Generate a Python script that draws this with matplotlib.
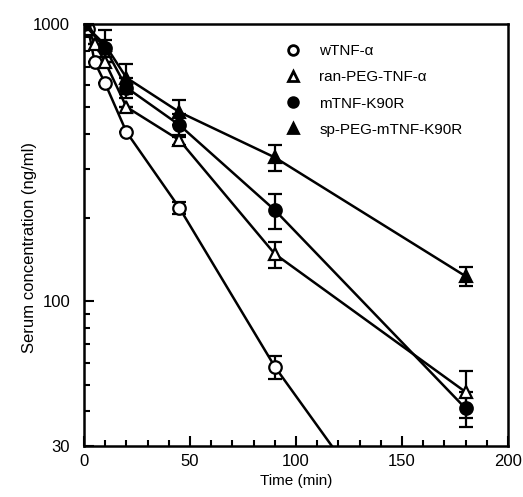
import matplotlib.pyplot as plt
from matplotlib.ticker import FixedLocator, NullFormatter, MultipleLocator

plt.rcParams['font.family'] = ['Liberation Sans', 'DejaVu Sans']

# tiempos de muestreo (min)
tiempo = [0, 2, 5, 10, 20, 45, 90, 180]
tiempo_m = [0, 10, 20, 45, 90, 180]

# concentraciones (ng/ml)
wtnf = [1000, 960, 730, 610, 408, 217, 58, 6.4]
wtnf_err = [0, 0, 0, 0, 0, 10, 5.5, 0]
ran_peg = [1000, 960, 850, 729, 502, 381, 148, 47]
ran_peg_err = [0, 0, 0, 0, 0, 15, 16, 9]
mtnf = [1000, 819, 590, 432, 213, 41]
mtnf_err = [0, 60, 50, 40, 31, 6]
sp_peg = [1000, 840, 640, 481, 330, 123]
sp_peg_err = [0, 110, 80, 50, 36, 10]

nombres = ['wTNF-α', 'ran-PEG-TNF-α', 'mTNF-K90R', 'sp-PEG-mTNF-K90R']

fig = plt.figure(figsize=(5.23, 4.97), dpi=100)
ax = fig.add_axes([0.1606, 0.1026, 0.8107, 0.8491])

estilo = dict(color='black', lw=1.8, ms=9, mew=1.6, capsize=5,
              elinewidth=1.6, capthick=1.6, clip_on=True)

ax.errorbar(tiempo, wtnf, yerr=wtnf_err, marker='o', mfc='white', label=nombres[0], **estilo)
ax.errorbar(tiempo, ran_peg, yerr=ran_peg_err, marker='^', mfc='white', label=nombres[1], **estilo)
ax.errorbar(tiempo_m, mtnf, yerr=mtnf_err, marker='o', mfc='black', label=nombres[2], **estilo)
ax.errorbar(tiempo_m, sp_peg, yerr=sp_peg_err, marker='^', mfc='black', label=nombres[3], **estilo)

ax.set_yscale('log')
ax.set_xlim(0, 200)
ax.set_ylim(30, 1000)

ax.xaxis.set_major_locator(MultipleLocator(50))
ax.xaxis.set_minor_locator(MultipleLocator(10))
ax.yaxis.set_major_locator(FixedLocator([30, 100, 1000]))
ax.yaxis.set_major_formatter(plt.FixedFormatter(['30', '100', '1000']))
ax.yaxis.set_minor_locator(FixedLocator([40, 50, 60, 70, 80, 90, 200, 300, 400, 500, 600, 700, 800, 900]))
ax.yaxis.set_minor_formatter(NullFormatter())

ax.tick_params(which='both', direction='in', top=False, right=False, labelsize=12, width=1.5)
ax.tick_params(which='major', length=7)
ax.tick_params(which='minor', length=4)
ax.tick_params(axis='y', pad=10)
ax.tick_params(axis='x', pad=6)
for s in ax.spines.values():
    s.set_linewidth(1.8)

ax.set_xlabel('Time (min)', fontsize=11, labelpad=3)
ax.set_ylabel('Serum concentration (ng/ml)', fontsize=12)
ax.yaxis.set_label_coords(-0.11, 0.47)

# leyenda solo con marcadores
h, l = ax.get_legend_handles_labels()
marcas = []
for hh in h:
    linea = hh[0]
    m = plt.Line2D([], [], ls='none', marker=linea.get_marker(), mfc=linea.get_markerfacecolor(),
                   mec='black', mew=2, ms=7)
    marcas.append(m)
ax.legend(marcas, l, loc='upper left', bbox_to_anchor=(0.44, 0.985), frameon=False,
          fontsize=11, handlelength=1.2, handletextpad=1.1, labelspacing=0.8)

plt.savefig('out.png')
